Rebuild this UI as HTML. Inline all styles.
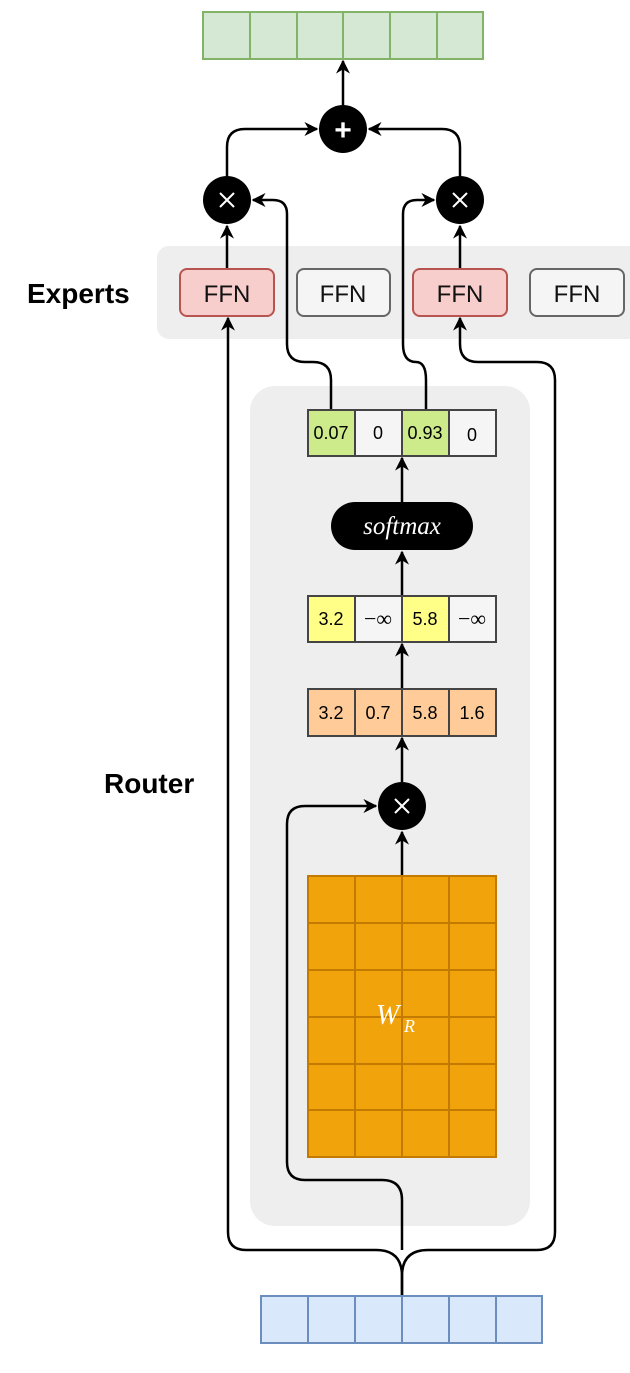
<!DOCTYPE html>
<html><head><style>body{margin:0;background:#fff}svg{display:block}</style></head><body>
<svg width="630" height="1373" viewBox="0 0 630 1373" xmlns="http://www.w3.org/2000/svg" font-family="Liberation Sans, sans-serif">
<defs><marker id="a" viewBox="0 0 10 10" refX="9" refY="5" markerWidth="8" markerHeight="8" orient="auto" markerUnits="userSpaceOnUse"><path d="M0,0 L10,5 L0,10 L3,5 z" fill="#000"/></marker>
<marker id="b" viewBox="0 0 10 10" refX="9" refY="5" markerWidth="14" markerHeight="14" orient="auto" markerUnits="userSpaceOnUse"><path d="M0,0 L10,5 L0,10 L3,5 z" fill="#000"/></marker></defs>
<rect x="157" y="246" width="490" height="93" rx="12" fill="#eeeeee"/>
<rect x="250" y="386" width="280" height="840" rx="25" fill="#eeeeee"/>
<text x="27" y="303" font-size="28" font-weight="bold">Experts</text>
<text x="104" y="793" font-size="28" font-weight="bold">Router</text>
<g fill="none" stroke="#000" stroke-width="2.5" marker-end="url(#b)">
<path d="M402,1296 V1276 Q402,1250 376,1250 H246 Q228,1250 228,1232 V318"/>
<path d="M402,1296 V1276 Q402,1250 428,1250 H537 Q555,1250 555,1232 V380 Q555,362 537,362 H478 Q460,362 460,344 V318"/>
<path d="M402,1250 V1200 Q402,1180 382,1180 H305 Q287,1180 287,1162 V824 Q287,806 305,806 H376"/>
<path d="M402,876 V832"/>
<path d="M402,782 V738"/>
<path d="M402,689 V644"/>
<path d="M402,596 V552"/>
<path d="M402,502 V458"/>
<path d="M331,410 V380 Q331,362 313,362 H305 Q287,362 287,344 V214 Q287,200 273,200 H253"/>
<path d="M426,410 V380 Q426,362 416,362 Q403,362 403,344 V214 Q403,200 417,200 H434"/>
<path d="M227,269 V226"/>
<path d="M460,269 V226"/>
<path d="M227,176 V147 Q227,129 245,129 H317"/>
<path d="M460,176 V147 Q460,129 442,129 H369"/>
<path d="M343,105 V61"/>
</g>
<g stroke="#82b366" stroke-width="2" fill="#d5e8d4">
<rect x="203" y="12" width="47" height="47"/><rect x="250" y="12" width="47" height="47"/><rect x="297" y="12" width="46" height="47"/><rect x="343" y="12" width="47" height="47"/><rect x="390" y="12" width="47" height="47"/><rect x="437" y="12" width="46" height="47"/>
</g>
<g stroke="#6c8ebf" stroke-width="2" fill="#dae8fc">
<rect x="261" y="1296" width="47" height="47"/><rect x="308" y="1296" width="47" height="47"/><rect x="355" y="1296" width="47" height="47"/><rect x="402" y="1296" width="47" height="47"/><rect x="449" y="1296" width="47" height="47"/><rect x="496" y="1296" width="46" height="47"/>
</g>
<circle cx="343" cy="129" r="24"/>
<text x="343" y="140" font-size="30" font-weight="bold" fill="#fff" text-anchor="middle">+</text>
<circle cx="227" cy="200" r="24"/><circle cx="460" cy="200" r="24"/><circle cx="402" cy="806" r="24"/>
<g stroke="#fff" stroke-width="2"><path d="M220,193 L234,207 M234,193 L220,207"/><path d="M453,193 L467,207 M467,193 L453,207"/><path d="M395,799 L409,813 M409,799 L395,813"/></g>
<g font-size="24" text-anchor="middle" fill="#111">
<rect x="180" y="269" width="94" height="47" rx="7" fill="#f8cecc" stroke="#b85450" stroke-width="2"/><text x="227" y="302">FFN</text>
<rect x="297" y="269" width="93" height="47" rx="7" fill="#f5f5f5" stroke="#666" stroke-width="2"/><text x="343" y="302">FFN</text>
<rect x="413" y="269" width="94" height="47" rx="7" fill="#f8cecc" stroke="#b85450" stroke-width="2"/><text x="460" y="302">FFN</text>
<rect x="530" y="269" width="94" height="47" rx="7" fill="#f5f5f5" stroke="#666" stroke-width="2"/><text x="577" y="302">FFN</text>
</g>
<g stroke="#444" stroke-width="2" font-size="17" text-anchor="middle">
<rect x="308" y="410" width="47" height="46" fill="#cdeb8b"/><rect x="355" y="410" width="47" height="46" fill="#f5f5f5"/><rect x="402" y="410" width="47" height="46" fill="#cdeb8b"/><rect x="449" y="410" width="47" height="46" fill="#f5f5f5"/>
<rect x="308" y="596" width="47" height="46" fill="#ffff88"/><rect x="355" y="596" width="47" height="46" fill="#f5f5f5"/><rect x="402" y="596" width="47" height="46" fill="#ffff88"/><rect x="449" y="596" width="47" height="46" fill="#f5f5f5"/>
<rect x="308" y="689" width="47" height="47" fill="#ffcc99"/><rect x="355" y="689" width="47" height="47" fill="#ffcc99"/><rect x="402" y="689" width="47" height="47" fill="#ffcc99"/><rect x="449" y="689" width="47" height="47" fill="#ffcc99"/>
</g>
<g font-size="18" text-anchor="middle" fill="#000">
<text x="331" y="439">0.07</text><text x="378" y="439">0</text><text x="425" y="439">0.93</text><text x="472" y="441">0</text>
<text x="331" y="625">3.2</text><text x="378" y="626" font-family="Liberation Serif, serif" font-size="22">−∞</text><text x="425" y="625">5.8</text><text x="472" y="626" font-family="Liberation Serif, serif" font-size="22">−∞</text>
<text x="331" y="719">3.2</text><text x="378" y="719">0.7</text><text x="425" y="719">5.8</text><text x="472" y="719">1.6</text>
</g>
<rect x="331" y="502" width="142" height="48" rx="24" fill="#000"/>
<text x="402" y="534" font-size="25" font-style="italic" font-family="Liberation Serif, serif" fill="#fff" text-anchor="middle">softmax</text>
<g fill="#f0a30a" stroke="#c27a00" stroke-width="2">
<rect x="308" y="876" width="188" height="281"/>
</g>
<g stroke="#c27a00" stroke-width="2">
<path d="M355,876V1157M402,876V1157M449,876V1157M308,923H496M308,970H496M308,1017H496M308,1064H496M308,1110H496"/>
</g>
<text x="376" y="1024" font-size="28" font-style="italic" font-family="Liberation Serif, serif" fill="#fff">W</text>
<text x="404" y="1032" font-size="18" font-style="italic" font-family="Liberation Serif, serif" fill="#fff">R</text>
</svg>
</body></html>
